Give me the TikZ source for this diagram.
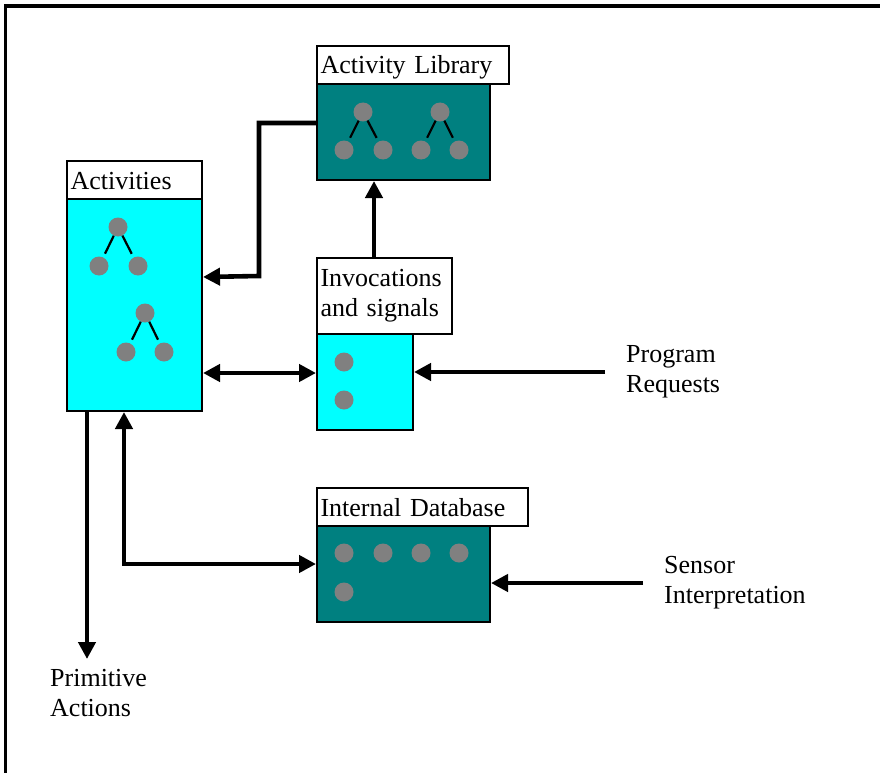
\documentclass[tikz,border=0pt]{standalone}
\usepackage{fontspec}
\setmainfont{Liberation Serif}
\usepackage{tikz}
\usetikzlibrary{arrows.meta,positioning}
\definecolor{boxteal}{RGB}{0,128,128}
\definecolor{boxcyan}{RGB}{0,255,255}
\definecolor{dotgray}{RGB}{128,128,128}

\begin{document}
\begin{tikzpicture}[x=1pt,y=-1pt,
  font=\fontsize{26}{30}\selectfont,
  store/.style={draw=black,line width=2pt,anchor=north west,inner sep=0pt},
  head/.style={draw=black,fill=white,line width=2pt,anchor=north west,
    align=left,inner xsep=3.5pt,inner ysep=0pt},
  oneline/.style={head,text height=20pt,text depth=2pt,minimum height=38pt},
  dot/.style={circle,fill=dotgray,minimum size=19pt,inner sep=0pt},
  twig/.style={draw=black,line width=2.2pt,shorten >=4pt},
  flow/.style={-{Triangle[length=17pt,width=17pt]},line width=4.6pt},
  flowboth/.style={{Triangle[length=17pt,width=17pt]}-{Triangle[length=17pt,width=17pt]},
    line width=4.6pt},
  source/.style={align=left,inner sep=0pt}]
\useasboundingbox (0,0) rectangle (880,773);
\draw[line width=3.5pt] (880,6)--(5.5,6)--(5.5,773);

% stores and their headings
\node[oneline,text width=185pt] (libhead) at (316,45) {Activity Library};
\node[store,fill=boxteal,minimum width=173pt,minimum height=96pt] (lib) at (316,83) {};
\node[oneline,text width=128pt] (actshead) at (66,160) {Activities};
\node[store,fill=boxcyan,minimum width=135pt,minimum height=212pt] (acts) at (66,198) {};
\node[head,text width=128pt,minimum height=76pt] (invhead) at (316,257) {Invocations\\and signals};
\node[store,fill=boxcyan,minimum width=96pt,minimum height=96pt] (inv) at (316,333) {};
\node[oneline,text width=204pt] (dbhead) at (316,487) {Internal Database};
\node[store,fill=boxteal,minimum width=173pt,minimum height=96pt] (db) at (316,525) {};

% outside sources and sinks
\node[source,anchor=west] (preq) at (626,372) {Program\\Requests};
\node[source,anchor=west] (sensor) at (664,583) {Sensor\\Interpretation};
\node[source,anchor=north west] (prim) at (50,669) {Primitive\\Actions};

% library trees
\node[dot] (lt1) at (363,112) {};
\node[dot] (ll1) at (344,150) {};
\node[dot] (lr1) at (383,150) {};
\node[dot] (lt2) at (440,112) {};
\node[dot] (ll2) at (421,150) {};
\node[dot] (lr2) at (459,150) {};
\draw[twig] (lt1)--(ll1);
\draw[twig] (lt1)--(lr1);
\draw[twig] (lt2)--(ll2);
\draw[twig] (lt2)--(lr2);

% activity trees
\node[dot] (at1) at (118,227) {};
\node[dot] (al1) at (99,266) {};
\node[dot] (ar1) at (138,266) {};
\node[dot] (at2) at (145,313) {};
\node[dot] (al2) at (126,352) {};
\node[dot] (ar2) at (164,352) {};
\draw[twig] (at1)--(al1);
\draw[twig] (at1)--(ar1);
\draw[twig] (at2)--(al2);
\draw[twig] (at2)--(ar2);

% queued items
\node[dot] (iv1) at (344,362) {};
\node[dot] (iv2) at (344,400) {};
\node[dot] (d1) at (344,553) {};
\node[dot] (d2) at (383,553) {};
\node[dot] (d3) at (421,553) {};
\node[dot] (d4) at (459,553) {};
\node[dot] (d5) at (344,592) {};

% connections
\draw[flow] ([yshift=9pt]lib.west)-|(259,276)--([yshift=28pt]acts.east);
\draw[flow] ([xshift=-10.5pt]invhead.north)--([xshift=-10.5pt]invhead.north |- lib.south);
\draw[flowboth] ([yshift=-68pt]acts.east)--([yshift=-68pt]acts.east -| inv.west);
\draw[flow,shorten <=21pt] (preq.west)--(preq.west -| inv.east);
\draw[flow,shorten <=21pt] (sensor.west)--(sensor.west -| db.east);
\draw[flowboth] ([xshift=-10.5pt]acts.south)|-([yshift=10pt]db.west);
\draw[flow,shorten >=10pt] ([xshift=-47.5pt]acts.south)--([xshift=-47.5pt]acts.south |- prim.north);
\end{tikzpicture}
\end{document}
